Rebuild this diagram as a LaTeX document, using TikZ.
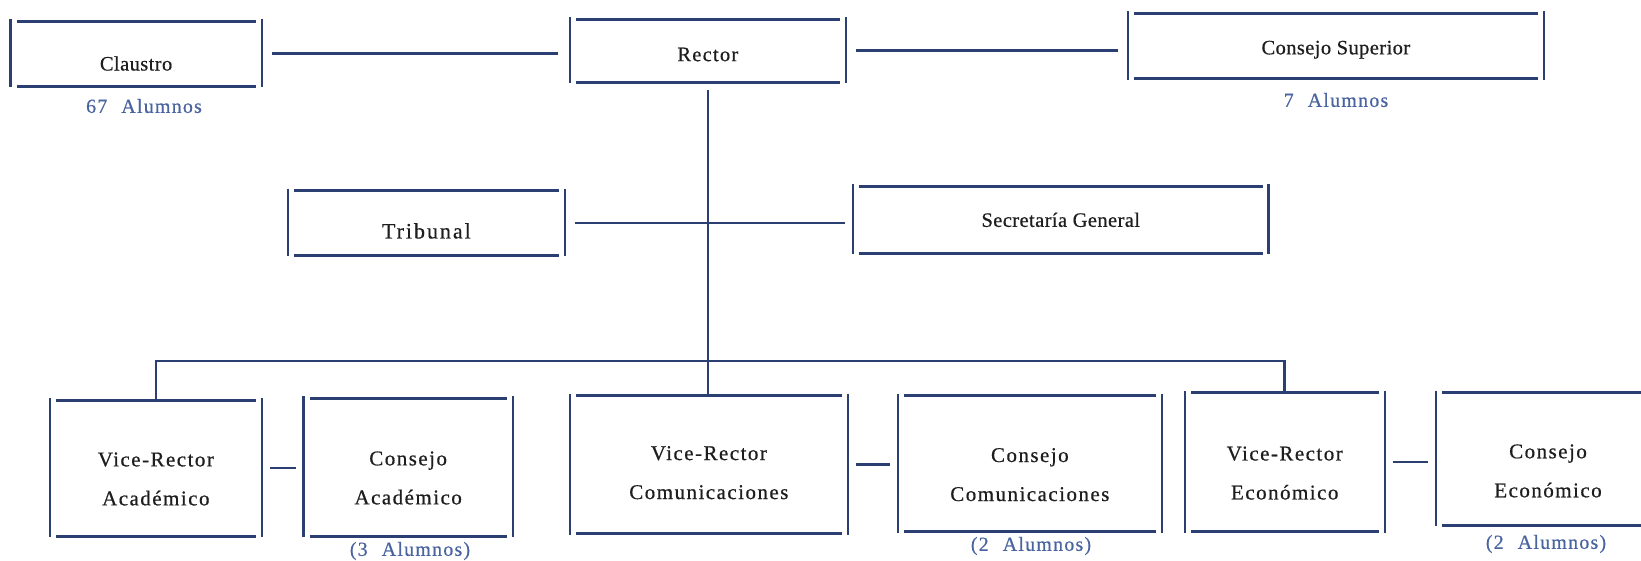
\documentclass[tikz,border=0pt]{standalone}
\usepackage{fontspec}
\setmainfont{Liberation Serif}
\newfontfamily\topfont[LetterSpace=2,FakeBold=0.6]{Liberation Serif}
\newfontfamily\rectfont[LetterSpace=6,FakeBold=0.6]{Liberation Serif}
\newfontfamily\tribfont[LetterSpace=9,FakeBold=0.6]{Liberation Serif}
\newfontfamily\botfont[LetterSpace=7,FakeBold=0.6]{Liberation Serif}
\newfontfamily\lblfont[LetterSpace=6,FakeBold=0.5]{Liberation Serif}
\newcommand{\cntfont}{\lblfont\fontsize{20}{22}\selectfont\spaceskip 14pt plus 2pt\relax}
\definecolor{ink}{HTML}{2B3F73}
\definecolor{lbl}{HTML}{4A64A0}
\definecolor{txt}{HTML}{1E1E1E}
\tikzset{
  boxshape/.style={inner sep=0pt, outer sep=0pt},
  toptext/.style={inner sep=0pt, align=center, text=txt, font=\topfont\fontsize{20.5}{39}\selectfont},
  recttext/.style={inner sep=0pt, align=center, text=txt, font=\rectfont\fontsize{20.5}{39}\selectfont},
  tribtext/.style={inner sep=0pt, align=center, text=txt, font=\tribfont\fontsize{22}{39}\selectfont},
  bottext/.style={inner sep=0pt, align=center, text=txt, font=\botfont\fontsize{21}{39}\selectfont},
  hline/.style={draw=ink, line width=3pt},
  vline/.style={draw=ink, line width=2.3pt},
  link/.style={draw=ink, line width=2.6pt},
  count/.style={text=lbl, inner sep=0pt, font=\cntfont},
}
% #1 name, #2 x1, #3 y1, #4 x2, #5 y2, #6 text style, #7 text drop, #8 text
\newcommand{\obox}[8]{%
  \node[boxshape, minimum width={#4-#2}, minimum height={#5-#3},
        label={[#6, yshift={-#7pt}]center:#8}] (#1) at ({(#2+#4)/2},{(#3+#5)/2}) {};
  \draw[vline] ([yshift=2pt]#1.north west) -- ([yshift=-1pt]#1.south west);
  \draw[vline] ([yshift=2pt]#1.north east) -- ([yshift=-1pt]#1.south east);
  \draw[hline] ([xshift=6pt]#1.north west) -- ([xshift=-6pt]#1.north east);
  \draw[hline] ([xshift=6pt]#1.south west) -- ([xshift=-6pt]#1.south east);
}
\begin{document}
\begin{tikzpicture}[x=1pt,y=-1pt]
\useasboundingbox (0,0) rectangle (1641,560);
\clip (0,0) rectangle (1641,560);
% top row
\obox{claustro}{10.5}{21}{261.7}{86}{toptext}{10}{Claustro}
\obox{rector}{570}{19}{845.7}{82}{recttext}{4}{Rector}
\obox{csup}{1128}{13}{1543.7}{78.5}{toptext}{4}{Consejo Superior}
% middle row
\obox{trib}{287.8}{190.5}{565}{255.4}{tribtext}{8}{Tribunal}
\obox{sec}{853}{186.3}{1268.5}{253.3}{toptext}{0}{Secretaría General}
% bottom row
\obox{vra}{50}{400}{261.7}{536}{bottext}{11}{Vice-Rector\\Académico}
\obox{ca}{303.5}{398}{512.8}{536}{bottext}{11}{Consejo\\Académico}
\obox{vrc}{570}{395.6}{847.7}{533.8}{bottext}{8}{Vice-Rector\\Comunicaciones}
\obox{cc}{898}{395.6}{1161.7}{531.7}{bottext}{11}{Consejo\\Comunicaciones}
\obox{vre}{1184.8}{392.5}{1384.7}{531.7}{bottext}{11}{Vice-Rector\\Económico}
\obox{ce}{1436}{392.5}{1660}{525.4}{bottext}{12}{Consejo\\Económico}
% student counts
\node[count] (lclaustro) at (144,106) {67 Alumnos};
\node[count] (lsup) at (1336,100) {7 Alumnos};
\node[count] (lacad) at (410,551) {(3 Alumnos)};
\node[count] (lcom) at (1031,546) {(2 Alumnos)};
\node[count] (leco) at (1546,544) {(2 Alumnos)};
% connectors
\draw[link] ([xshift=10pt]claustro.east) -- ([xshift=-12pt]claustro.east -| rector.west);
\draw[link] ([xshift=10pt]rector.east) -- ([xshift=-10pt]rector.east -| csup.west);
\draw[link] ([yshift=-8pt]rector.south) -- (rector.south |- vrc.north);
\draw[link] ([xshift=10pt]trib.east) -- ([xshift=-8pt]trib.east -| sec.west);
\coordinate (busy) at (0,361);
\draw[link] (vra.north) -- (vra.north |- busy) -- (vre.north |- busy) -- (vre.north);
\draw[link] ([xshift=8pt]vra.east) -- ([xshift=-8pt]vra.east -| ca.west);
\draw[link] ([xshift=8pt]vrc.east) -- ([xshift=-8pt]vrc.east -| cc.west);
\draw[link] ([xshift=8pt]vre.east) -- ([xshift=-8pt]vre.east -| ce.west);
\end{tikzpicture}
\end{document}
